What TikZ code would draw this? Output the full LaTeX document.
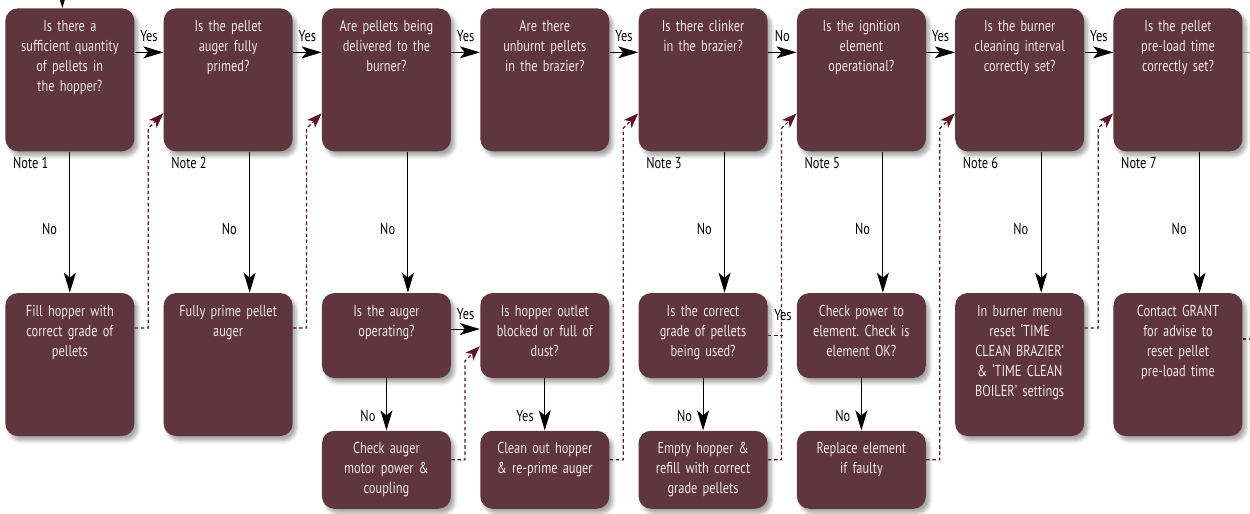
\documentclass[tikz,border=0pt]{standalone}
\usepackage{fontspec}
\setmainfont{PT Sans}[FakeStretch=0.78]
\frenchspacing
\usepackage{tikz}
\usetikzlibrary{arrows.meta,positioning,calc,shadows.blur}
\definecolor{GrantMaroon}{RGB}{95,53,62}
\definecolor{GrantDash}{RGB}{92,22,40}
\definecolor{GrantText}{RGB}{242,234,236}

\begin{document}
\begin{tikzpicture}[node distance=0.572cm, auto]
  \tikzstyle{qbox} = [rectangle, fill=GrantMaroon, text=GrantText, rounded corners=0.25cm, minimum width=2.58cm, text width=2.5cm, inner xsep=0.04cm, inner ysep=0pt, align=center, text height=0.46cm, font=\fontsize{9}{11.4}\selectfont, blur shadow={shadow xshift=0.7mm, shadow yshift=-0.9mm, shadow opacity=35, shadow blur steps=6}]
  \tikzstyle{tall} = [qbox, text depth=2.4cm]
  \tikzstyle{mid} = [qbox, text depth=1.24cm]
  \tikzstyle{low} = [qbox, text depth=1.1cm]
  \tikzstyle{lbl} = [font=\fontsize{9}{10}\selectfont, inner sep=1pt, text=black]
  \tikzstyle{flow} = [draw=black, line width=0.6pt, -{Stealth[length=0.4cm, width=0.24cm, inset=0.1cm]}]
  \tikzstyle{back} = [draw=GrantDash, line width=0.7pt, dash pattern=on 2pt off 1.5pt, -{Stealth[length=0.3cm, width=0.22cm, inset=0.08cm]}]

  \useasboundingbox (0,0) rectangle (25,-10.28);

  % questions along the top
  \node [tall, anchor=north west] (q1) at (0.1,-0.16) {Is there a\\sufficient quantity\\of pellets in\\the hopper?};
  \node [tall, right=of q1] (q2) {Is the pellet\\auger fully\\primed?};
  \node [tall, right=of q2] (q3) {Are pellets being\\delivered to the\\burner?};
  \node [tall, right=of q3] (q4) {Are there\\unburnt pellets\\in the brazier?};
  \node [tall, right=of q4] (q5) {Is there clinker\\in the brazier?};
  \node [tall, right=of q5] (q6) {Is the ignition\\element\\operational?};
  \node [tall, right=of q6] (q7) {Is the burner\\cleaning interval\\correctly set?};
  \node [tall, right=of q7] (q8) {Is the pellet\\pre-load time\\correctly set?};

  % remedies underneath
  \node [tall, below=2.82cm of q1] (hopper) {Fill hopper with\\correct grade of\\pellets};
  \node [tall, below=2.82cm of q2] (prime) {Fully prime pellet\\auger};
  \node [mid, below=2.82cm of q3] (augerop) {Is the auger\\operating?};
  \node [low, below=1.04cm of augerop] (motor) {Check auger\\motor power \&\\coupling};
  \node [mid, below=2.82cm of q4] (outlet) {Is hopper outlet\\blocked or full of\\dust?};
  \node [low, below=1.04cm of outlet] (cleanout) {Clean out hopper\\\& re-prime auger};
  \node [mid, below=2.82cm of q5] (grade) {Is the correct\\grade of pellets\\being used?};
  \node [low, below=1.04cm of grade] (refill) {Empty hopper \&\\refill with correct\\grade pellets};
  \node [mid, below=2.82cm of q6] (power) {Check power to\\element. Check is\\element OK?};
  \node [low, below=1.04cm of power] (replace) {Replace element\\if faulty};
  \node [tall, below=2.82cm of q7] (menu) {In burner menu\\reset `TIME\\CLEAN BRAZIER'\\\& `TIME CLEAN\\BOILER' settings};
  \node [tall, below=2.82cm of q8] (grant) {Contact GRANT\\for advise to\\reset pellet\\pre-load time};

  % notes
  \foreach \q/\n in {q1/1, q2/2, q5/3, q6/5, q7/6, q8/7}
    \node [lbl, anchor=north west] (note\n) at ([xshift=0.12cm, yshift=-0.06cm]\q.south west) {Note \n};

  % entry and main chain
  \coordinate (start) at ($(q1.north)+(-0.15,0.16)$);
  \draw [flow] (start) -- (start |- q1.north);
  \foreach \a/\b/\t in {q1/q2/Yes, q2/q3/Yes, q3/q4/Yes, q4/q5/Yes, q5/q6/No, q6/q7/Yes, q7/q8/Yes}
    \draw [flow] ([yshift=0.55cm]\a.east) -- node [lbl, above=5pt] {\t} ([yshift=0.55cm]\b.west);
  \draw [gray, line width=0.6pt] ([yshift=0.55cm]q8.east) -- ++(0.2,0);

  % downward branches
  \foreach \a/\b/\s in {q1/hopper/0, q2/prime/0.43, q3/augerop/0.43, q5/grade/0.43, q6/power/0.43, q7/menu/0.43, q8/grant/0.43}
    \draw [flow] ([xshift=\s cm]\a.south) -- node [lbl, left=6pt, pos=0.55] {No} ([xshift=\s cm]\b.north);
  \foreach \a/\b/\t in {augerop/motor/No, outlet/cleanout/Yes, grade/refill/No, power/replace/No}
    \draw [flow] (\a) -- node [lbl, left=5pt, pos=0.72] {\t} (\b);
  \draw [flow] ([yshift=0.13cm]augerop.east) -- node [lbl, above=4pt] {Yes} ([yshift=0.13cm]outlet.west);

  % dashed returns to the next question
  \foreach \a/\b/\h in {hopper/q2/0.73, prime/q3/0.73, cleanout/q5/0.2, refill/q6/0.2, replace/q7/0.2, menu/q8/0.73}
    \draw [back] ([yshift=\h cm]\a.east) -| ($(\b.west)+(-0.3,-0.97)$) -- ([yshift=-0.67cm]\b.west);
  \draw [back] ([yshift=0.2cm]motor.east) -| ($(outlet.west)+(-0.3,-0.51)$) -- ([yshift=-0.21cm]outlet.west);
  \draw [back, -] (grade.east) -- ++(0.3,0) node [lbl, above=7pt] (gradeyes) {Yes};
  \draw [back, -] ([yshift=0.51cm]grant.east) -- ++(0.2,0);
\end{tikzpicture}
\end{document}
